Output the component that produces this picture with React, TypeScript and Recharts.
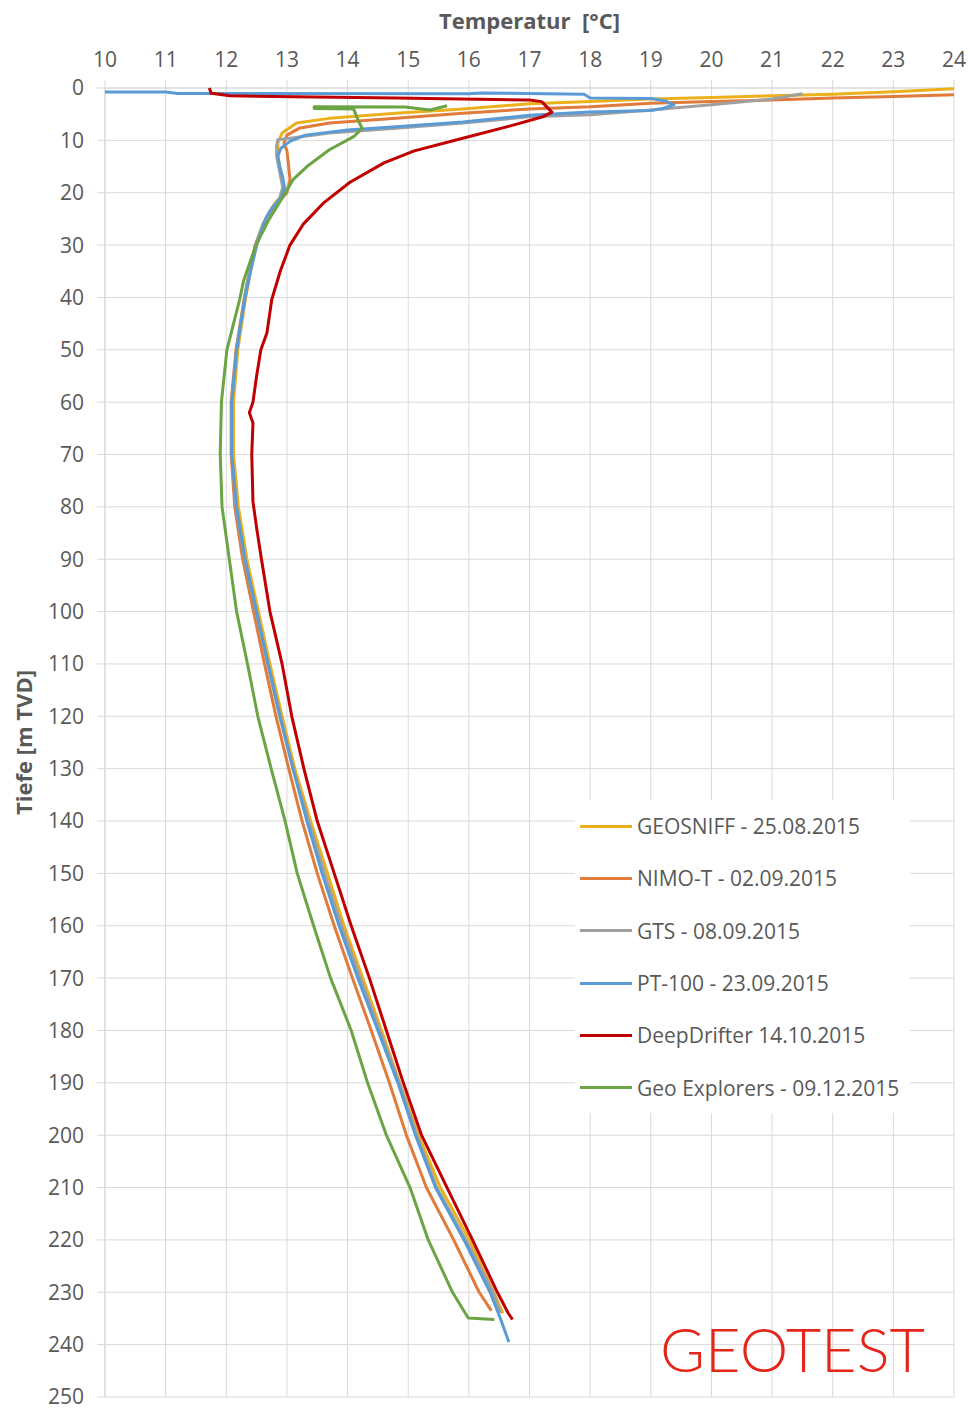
import { ScatterChart, Scatter, XAxis, YAxis, CartesianGrid, Legend } from 'recharts';

// axis ticks
const tempTicks = [10, 11, 12, 13, 14, 15, 16, 17, 18, 19, 20, 21, 22, 23, 24];
const tempMinorTicks = [10.5, 11.5, 12.5, 13.5, 14.5, 15.5, 16.5, 17.5, 18.5, 19.5, 20.5, 21.5, 22.5, 23.5];
const depthTicks = [0, 10, 20, 30, 40, 50, 60, 70, 80, 90, 100, 110, 120, 130, 140, 150, 160, 170, 180, 190, 200, 210, 220, 230, 240, 250];
const depthMinorTicks = [5, 15, 25, 35, 45, 55, 65, 75, 85, 95, 105, 115, 125, 135, 145, 155, 165, 175, 185, 195, 205, 215, 225, 235, 245];

// GEOSNIFF - 25.08.2015
const geosniffDepth = [0.15, 0.7, 1.2, 1.5, 1.8, 2.1, 2.6, 3.0, 4.0, 4.8, 5.8, 6.7, 8.6, 10.5, 13, 16, 20, 22, 24.5, 30, 35, 40, 50, 60, 70, 80, 90, 100, 110, 120, 130, 140, 150, 160, 170, 180, 190, 200, 210, 220, 230, 234];
const geosniffTemp = [24, 23, 22, 21, 20, 19, 18, 17, 15.9, 14.8, 13.7, 13.16, 12.92, 12.85, 12.85, 12.9, 12.97, 12.8, 12.67, 12.5, 12.4, 12.32, 12.19, 12.12, 12.12, 12.2, 12.34, 12.53, 12.72, 12.92, 13.13, 13.39, 13.67, 13.94, 14.25, 14.56, 14.86, 15.17, 15.53, 16.01, 16.41, 16.56];

// NIMO-T - 02.09.2015
const nimoDepth = [1.3, 1.6, 1.9, 2.3, 2.6, 2.9, 3.6, 4.0, 4.8, 5.8, 6.7, 7.7, 9.0, 10.5, 12, 14, 17.5, 20, 22.5, 25, 30, 35, 40, 50, 60, 70, 80, 90, 100, 110, 120, 130, 140, 150, 160, 170, 180, 190, 200, 210, 220, 230, 233.5];
const nimoTemp = [24, 23, 22, 21, 20, 19, 18, 17, 15.9, 14.8, 13.7, 13.2, 13.0, 12.95, 13.0, 13.02, 13.05, 13.0, 12.8, 12.65, 12.48, 12.38, 12.3, 12.16, 12.08, 12.08, 12.14, 12.27, 12.45, 12.63, 12.82, 13.03, 13.25, 13.5, 13.78, 14.08, 14.39, 14.69, 14.97, 15.3, 15.75, 16.17, 16.37];

// GTS - 08.09.2015
const gtsDepth = [1.1, 2.1, 3.2, 4.2, 5.1, 5.5, 6.7, 7.7, 8.6, 9.6, 9.9, 11, 13, 16, 19, 21, 23.5, 26, 30, 35, 40, 50, 60, 70, 80, 90, 100, 110, 120, 130, 140, 150, 160, 170, 180, 190, 200, 210, 220, 230, 234];
const gtsTemp = [21.5, 21.0, 20.0, 19.0, 18.0, 17.0, 15.9, 14.8, 13.7, 13.05, 12.85, 12.83, 12.83, 12.88, 12.93, 12.88, 12.72, 12.6, 12.48, 12.38, 12.3, 12.17, 12.09, 12.09, 12.16, 12.3, 12.49, 12.68, 12.88, 13.1, 13.36, 13.62, 13.9, 14.21, 14.53, 14.85, 15.14, 15.47, 15.95, 16.4, 16.52];

// PT-100 - 23.09.2015
const pt100Depth = [0.75, 0.75, 1.05, 1.1, 0.95, 1.2, 1.9, 2.0, 2.5, 3.2, 3.9, 4.3, 4.6, 5.2, 6.5, 7.4, 8.0, 9.0, 10.2, 11.5, 13, 15, 17, 19, 21, 23, 25, 30, 35, 40, 50, 60, 70, 80, 90, 100, 110, 120, 130, 140, 150, 160, 170, 180, 190, 200, 210, 220, 230, 235, 239.5];
const pt100Temp = [10, 11.0, 11.2, 16.0, 16.2, 17.9, 18.0, 19.0, 19.25, 19.38, 19.2, 19.0, 18.0, 17.0, 15.9, 14.8, 14.0, 13.3, 13.05, 12.9, 12.85, 12.88, 12.93, 12.96, 12.9, 12.75, 12.65, 12.5, 12.4, 12.31, 12.17, 12.09, 12.09, 12.17, 12.31, 12.5, 12.69, 12.89, 13.1, 13.33, 13.58, 13.86, 14.17, 14.5, 14.83, 15.12, 15.45, 15.92, 16.35, 16.52, 16.66];

// DeepDrifter 14.10.2015
const drifterDepth = [0, 1.0, 1.5, 1.9, 2.3, 2.6, 4.6, 5.5, 7.1, 9.6, 12, 14.3, 18, 22, 26, 30, 35, 40.4, 46.8, 50, 55, 60, 62, 64, 70, 79, 84, 90, 100, 110, 120, 130, 140, 150, 160, 170, 180, 190, 200, 210, 220, 230, 234, 235.2];
const drifterTemp = [11.72, 11.75, 12.06, 14.8, 17.0, 17.2, 17.37, 17.22, 16.73, 15.9, 15.1, 14.6, 14.04, 13.6, 13.27, 13.05, 12.89, 12.75, 12.67, 12.57, 12.5, 12.44, 12.38, 12.44, 12.42, 12.44, 12.5, 12.58, 12.72, 12.92, 13.08, 13.28, 13.5, 13.78, 14.06, 14.36, 14.64, 14.92, 15.22, 15.64, 16.06, 16.47, 16.65, 16.72];

// Geo Explorers - 09.12.2015
const explorersDepth = [3.4, 4.2, 3.65, 3.6, 3.9, 4.0, 5.5, 7.7, 9.3, 11.8, 15, 17.5, 20.5, 25.4, 30, 36.6, 40.4, 50, 60, 70, 80, 90, 100, 110, 120, 130, 140, 150, 160, 170, 180, 190, 200, 210, 220, 230, 234.9, 235.2];
const explorersTemp = [15.64, 15.36, 14.95, 13.45, 13.45, 14.1, 14.15, 14.24, 14.1, 13.7, 13.33, 13.1, 12.95, 12.69, 12.49, 12.29, 12.22, 12.01, 11.92, 11.9, 11.93, 12.05, 12.17, 12.35, 12.52, 12.74, 12.97, 13.17, 13.44, 13.72, 14.06, 14.33, 14.64, 15.03, 15.33, 15.73, 15.99, 16.42];

const toPoints = (temps: number[], depths: number[]) =>
  temps.map((t, i) => ({ t, d: depths[i] }));

const series = [
  { name: 'GEOSNIFF - 25.08.2015', color: '#EBB01C', data: toPoints(geosniffTemp, geosniffDepth) },
  { name: 'NIMO-T - 02.09.2015', color: '#E07B39', data: toPoints(nimoTemp, nimoDepth) },
  { name: 'GTS - 08.09.2015', color: '#A0A0A0', data: toPoints(gtsTemp, gtsDepth) },
  { name: 'PT-100 - 23.09.2015', color: '#5B9BD5', data: toPoints(pt100Temp, pt100Depth) },
  { name: 'DeepDrifter 14.10.2015', color: '#C00000', data: toPoints(drifterTemp, drifterDepth) },
  { name: 'Geo Explorers - 09.12.2015', color: '#6BA543', data: toPoints(explorersTemp, explorersDepth) },
];

const FONT = "'Open Sans', sans-serif";
const TEXT = '#595959';
const GRID = '#d9d9d9';

const renderLegend = () => (
  <div style={{ background: '#fff', width: 335, height: 313 }}>
    {series.map((s) => (
      <div key={s.name} style={{ display: 'flex', alignItems: 'center', height: 52.3 }}>
        <span style={{ display: 'inline-block', width: 52, height: 3, background: s.color, marginLeft: 5 }} />
        <span style={{ marginLeft: 5, fontSize: 21, color: TEXT, fontFamily: FONT, whiteSpace: 'nowrap' }}>
          {s.name}
        </span>
      </div>
    ))}
  </div>
);

const noDot = () => <g />;

export default function App() {
  return (
    <div style={{ position: 'absolute', left: 0, top: 0, width: 970, height: 1411, background: '#fff' }}>
      <ScatterChart width={970} height={1411} margin={{ top: 8, right: 16, bottom: 14, left: 8 }}>
        <CartesianGrid stroke={GRID} strokeWidth={1} />
        <XAxis
          type="number"
          dataKey="t"
          orientation="top"
          height={80}
          domain={[10, 24]}
          ticks={tempTicks}
          interval={0}
          tickSize={8}
          tickMargin={13}
          axisLine={{ stroke: GRID }}
          tickLine={{ stroke: GRID }}
          tick={{ fill: TEXT, fontSize: 21, fontFamily: FONT }}
          label={{
            value: 'Temperatur\u00a0 [°C]',
            position: 'insideTop',
            offset: 5,
            style: { fill: TEXT, fontSize: 22, fontWeight: 700, fontFamily: FONT },
          }}
        />
        <XAxis
          xAxisId="minor"
          type="number"
          orientation="top"
          mirror
          height={0}
          domain={[10, 24]}
          allowDataOverflow
          ticks={tempMinorTicks}
          interval={0}
          tickSize={5}
          axisLine={false}
          tickLine={{ stroke: '#c8c8c8' }}
          tick={false}
        />
        <YAxis
          type="number"
          dataKey="d"
          reversed
          width={97}
          domain={[0, 250]}
          ticks={depthTicks}
          interval={0}
          tickSize={8}
          tickMargin={13}
          axisLine={{ stroke: GRID }}
          tickLine={{ stroke: GRID }}
          tick={{ fill: TEXT, fontSize: 21, fontFamily: FONT }}
          label={{
            value: 'Tiefe [m TVD]',
            angle: -90,
            position: 'insideLeft',
            offset: 16,
            style: { fill: TEXT, fontSize: 22, fontWeight: 700, fontFamily: FONT, textAnchor: 'middle' },
          }}
        />
        <YAxis
          yAxisId="minor"
          type="number"
          reversed
          mirror
          width={0}
          domain={[0, 250]}
          allowDataOverflow
          ticks={depthMinorTicks}
          interval={0}
          tickSize={5}
          axisLine={false}
          tickLine={{ stroke: '#c8c8c8' }}
          tick={false}
        />
        <Legend
          layout="vertical"
          align="center"
          verticalAlign="middle"
          content={renderLegend}
          wrapperStyle={{ left: 575, top: 800, width: 335, height: 313 }}
        />
        {series.map((s) => (
          <Scatter
            key={s.name}
            name={s.name}
            data={s.data}
            fill={s.color}
            line={{ stroke: s.color, strokeWidth: 3, strokeLinejoin: 'round' }}
            lineJointType="linear"
            shape={noDot}
            isAnimationActive={false}
          />
        ))}
      </ScatterChart>
      <svg
        width={970}
        height={1411}
        style={{ position: 'absolute', left: 0, top: 0, pointerEvents: 'none' }}
      >
        <text
          x={660}
          y={1372}
          fill="#E32619"
          fontSize={61}
          fontWeight={300}
          fontFamily="Lato, 'Open Sans', sans-serif"
          textLength={265}
          lengthAdjust="spacingAndGlyphs"
        >
          GEOTEST
        </text>
      </svg>
    </div>
  );
}
